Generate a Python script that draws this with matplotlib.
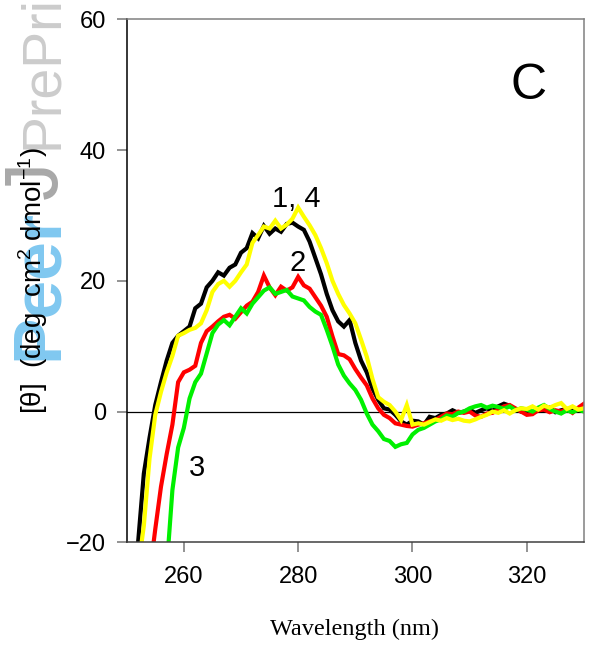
import numpy as np
import matplotlib
matplotlib.use('Agg')
import matplotlib.pyplot as plt

plt.rcParams['mathtext.fontset'] = 'custom'
plt.rcParams['mathtext.rm'] = 'Liberation Sans'
plt.rcParams['mathtext.default'] = 'regular'

# ── Data ─────────────────────────────────────────────────────────────────────
wavelength = list(range(251, 331))

# curve 1 (black)
theta_1 = [-26, -20, -9.5, -4.0, 1.0, 4.5, 7.8, 10.5, 11.6, 12.3,
           13.0, 15.8, 16.5, 19.0, 20.0, 21.3, 20.8, 22.0, 22.5, 24.3,
           25.0, 27.3, 26.5, 28.4, 27.2, 28.0, 27.5, 28.7, 28.9, 28.3,
           27.8, 26.0, 23.5, 21.0, 18.0, 15.5, 13.8, 13.0, 14.0, 10.5,
           7.8, 6.0, 3.5, 1.8, 0.5, 0.3, -0.5, -1.5, -2.0, -1.4,
           -1.5, -2.0, -0.8, -1.0, -0.5, -0.3, 0.2, -0.2, 0.0, 0.3,
           -0.2, 0.2, 0.5, 0.1, 0.8, 1.2, 0.9, 0.3, 0.0, 0.3,
           -0.2, 0.4, 0.2, 0.6, -0.1, 0.2, 0.4, 0.1, 0.5, 0.3]

# curve 2 (red)
theta_2 = [-46, -40, -33, -25, -18, -11.5, -6.5, -2.0, 4.5, 6.0,
           6.4, 7.0, 10.5, 12.3, 13.0, 13.8, 14.5, 14.8, 14.2, 15.2,
           16.2, 16.8, 18.3, 20.8, 19.0, 17.8, 19.1, 18.5, 19.0, 20.6,
           19.3, 18.8, 17.5, 16.2, 14.5, 11.5, 8.8, 8.6, 8.0, 6.5,
           5.2, 4.0, 2.0, 0.5, -0.5, -1.0, -1.8, -2.0, -2.2, -2.3,
           -2.0, -1.8, -1.5, -1.3, -0.8, -0.3, -0.4, 0.0, -0.2, 0.0,
           -0.6, -0.8, -0.3, -0.2, 0.3, 0.8, 1.0, 0.5, 0.0, -0.5,
           -0.4, 0.2, 0.3, -0.1, 0.2, 0.0, 0.4, -0.2, 0.6, 1.2]

# curve 3 (green)
theta_3 = [-60, -56, -50, -46, -42, -34, -24, -12, -5.5, -2.5,
           2.0, 4.5, 5.8, 8.9, 12.0, 13.3, 14.0, 13.2, 14.5, 15.8,
           15.0, 16.5, 17.5, 18.5, 19.0, 18.0, 18.3, 18.6, 17.6, 17.3,
           17.0, 16.0, 15.3, 14.8, 12.5, 10.0, 7.2, 5.5, 4.3, 3.3,
           1.8, -0.3, -2.0, -3.0, -4.2, -4.5, -5.4, -5.0, -4.8, -3.5,
           -2.8, -2.5, -2.0, -1.5, -1.2, -0.6, -0.8, -0.2, 0.0, 0.5,
           0.8, 1.0, 0.6, 0.9, 0.7, 0.4, 0.8, 0.2, 0.5, 0.3,
           0.0, 0.6, 1.0, 0.4, 0.0, -0.3, 0.2, -0.1, 0.3, 0.0]

# curve 4 (yellow)
theta_4 = [-32, -24, -17.5, -7.2, -0.5, 3.0, 6.0, 8.5, 11.6, 12.0,
           12.5, 12.8, 13.5, 15.5, 18.3, 19.5, 20.0, 19.1, 20.0, 21.3,
           22.5, 25.8, 27.0, 28.3, 28.0, 29.2, 28.0, 28.6, 29.5, 31.2,
           29.8, 28.5, 27.0, 25.0, 22.7, 20.0, 18.0, 16.3, 15.0, 13.5,
           11.0, 8.4, 5.0, 2.2, 1.5, 1.0, 0.0, -1.3, 1.0, -2.0,
           -1.8, -2.0, -1.6, -1.2, -1.4, -1.0, -1.3, -1.1, -1.4, -1.5,
           -1.2, -0.8, -0.5, 0.0, -0.2, 0.2, -0.3, 0.2, 0.5, 0.4,
           0.8, 0.3, 0.9, 0.6, 1.0, 1.3, 0.4, 0.8, 0.3, 0.5]

series = [(theta_1, '#000000'), (theta_2, '#ff0000'),
          (theta_3, '#00f000'), (theta_4, '#ffff00')]

x_ticks = [260, 280, 300, 320]
y_ticks = [-20, 0, 20, 40, 60]

# ── Figure ───────────────────────────────────────────────────────────────────
fig = plt.figure(figsize=(5.9, 6.46), dpi=100)
ax = fig.add_axes([0.2147, 0.1605, 0.7751, 0.8096])
ax.set_zorder(2)

# watermark behind everything
fig.text(0.0966, 0.4427, 'Peer', fontsize=50, fontweight='bold',
         family='Liberation Sans', color='#80c8f0', rotation=90,
         rotation_mode='anchor', ha='left', va='baseline', zorder=0)
fig.text(0.0966, 0.6920, 'J', fontsize=55, family='Liberation Sans',
         color='#a8a8a8', rotation=90, rotation_mode='anchor',
         ha='left', va='baseline', zorder=0)
fig.text(0.0966, 0.7700, 'PrePrints', fontsize=40, family='Liberation Sans',
         color='#cccccc', rotation=90, rotation_mode='anchor',
         ha='left', va='baseline', zorder=0)

ax.axhline(0, color='black', lw=0.9, zorder=1)
for vals, col in series:
    ax.plot(wavelength, vals, color=col, lw=3.0, zorder=2,
            solid_joinstyle='miter')

ax.set_xlim(250, 330)
ax.set_ylim(-20, 60)
ax.set_xticks(x_ticks)
ax.set_yticks(y_ticks)
ax.patch.set_alpha(0)

for lab in ax.get_xticklabels() + ax.get_yticklabels():
    lab.set_family('Liberation Sans')
ax.tick_params(axis='x', direction='out', length=7, width=1.2,
               color='#808080', labelsize=17, pad=10)
ax.tick_params(axis='y', direction='out', length=7, width=1.2,
               color='#808080', labelsize=17, pad=8)

ax.spines['left'].set_color('black')
ax.spines['bottom'].set_color('#404040')
ax.spines['top'].set_color('#808080')
ax.spines['right'].set_color('#808080')
for sp in ax.spines.values():
    sp.set_linewidth(1.1)

ax.set_xlabel('Wavelength (nm)', family='Liberation Serif', fontsize=17.5)
ax.xaxis.set_label_coords(0.499, -0.177)
ax.xaxis.label.set_va('baseline')

ax.text(-0.204, 0.5, '[θ]  (deg  cm$^{2}$ dmol$^{-1}$)',
        transform=ax.transAxes, rotation=90, ha='center', va='center',
        family='Liberation Sans', fontsize=20, zorder=5)

# curve labels
ax.text(279.7, 32.5, '1, 4', fontsize=21, family='Liberation Sans',
        ha='center', va='center', zorder=4)
ax.text(279.9, 22.8, '2', fontsize=21, family='Liberation Sans',
        ha='center', va='center', zorder=4)
ax.text(262.3, -8.7, '3', fontsize=21, family='Liberation Sans',
        ha='center', va='center', zorder=4)
ax.text(320.3, 49.8, 'C', fontsize=36, family='Liberation Sans',
        ha='center', va='center', zorder=4)

fig.savefig('out.png', dpi=100)
